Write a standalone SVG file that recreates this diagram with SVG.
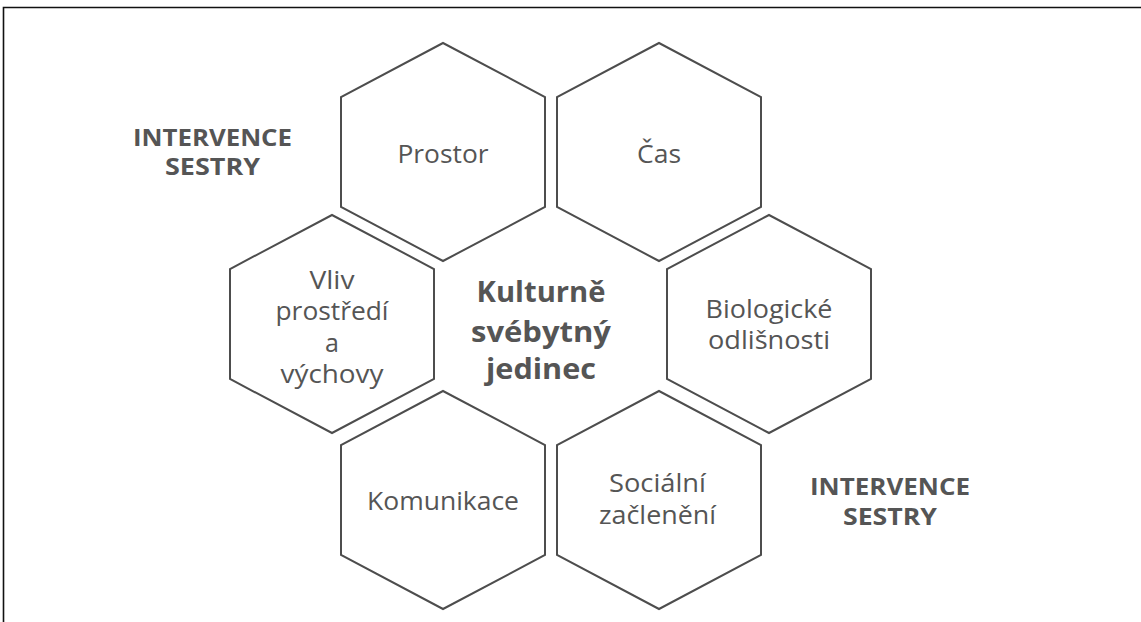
<svg xmlns="http://www.w3.org/2000/svg" width="1141" height="622" viewBox="0 0 1141 622">
  <style>
    .hex { fill: none; stroke: #4d4d4d; stroke-width: 2; stroke-linejoin: miter; }
    .t { font-family: "Open Sans", "Noto Sans", "DejaVu Sans", sans-serif; font-size: 25px; fill: #555555; text-anchor: middle; }
    .b { font-family: "Open Sans", "Noto Sans", "DejaVu Sans", sans-serif; font-size: 29px; font-weight: bold; fill: #555555; text-anchor: middle; }
    .lbl { font-family: "Open Sans", "Noto Sans", "DejaVu Sans", sans-serif; font-size: 24px; font-weight: bold; fill: #555555; text-anchor: middle; }
    .frame { fill: none; stroke: #111111; stroke-width: 1.6; }
  </style>
  <defs>
    <polygon id="hexshape" points="0,-109 102,-55 102,55 0,109 -102,55 -102,-55"/>
  </defs>
  <rect x="0" y="0" width="1141" height="622" fill="#ffffff"/>
  <path class="frame" d="M3.5,622 L3.5,7.5 L1141,7.5"/>

  <g id="node-prostor">
    <use href="#hexshape" class="hex" x="443" y="152"/>
    <text class="t" x="443" y="163" textLength="91" lengthAdjust="spacingAndGlyphs">Prostor</text>
  </g>
  <g id="node-cas">
    <use href="#hexshape" class="hex" x="659" y="152"/>
    <text class="t" x="659" y="163" textLength="44" lengthAdjust="spacingAndGlyphs">Čas</text>
  </g>
  <g id="node-vliv">
    <use href="#hexshape" class="hex" x="332" y="324"/>
    <text class="t" x="332" y="288.5" textLength="45" lengthAdjust="spacingAndGlyphs">Vliv</text>
    <text class="t" x="332" y="320" textLength="113" lengthAdjust="spacingAndGlyphs">prostředí</text>
    <text class="t" x="332" y="351.5">a</text>
    <text class="t" x="332" y="383" textLength="103" lengthAdjust="spacingAndGlyphs">výchovy</text>
  </g>
  <g id="node-biologicke">
    <use href="#hexshape" class="hex" x="769" y="324"/>
    <text class="t" x="769" y="317.5" textLength="127" lengthAdjust="spacingAndGlyphs">Biologické</text>
    <text class="t" x="769" y="348.5" textLength="122" lengthAdjust="spacingAndGlyphs">odlišnosti</text>
  </g>
  <g id="node-komunikace">
    <use href="#hexshape" class="hex" x="443" y="500"/>
    <text class="t" x="443" y="509.5" textLength="152" lengthAdjust="spacingAndGlyphs">Komunikace</text>
  </g>
  <g id="node-socialni">
    <use href="#hexshape" class="hex" x="659" y="500"/>
    <text class="t" x="657.5" y="492" textLength="97" lengthAdjust="spacingAndGlyphs">Sociální</text>
    <text class="t" x="657.5" y="524" textLength="117" lengthAdjust="spacingAndGlyphs">začlenění</text>
  </g>
  <g id="node-center">
    <text class="b" x="541" y="302" textLength="129" lengthAdjust="spacingAndGlyphs">Kulturně</text>
    <text class="b" x="541" y="342" textLength="140" lengthAdjust="spacingAndGlyphs">svébytný</text>
    <text class="b" x="541" y="379" textLength="110" lengthAdjust="spacingAndGlyphs">jedinec</text>
  </g>
  <g id="label-intervence-1">
    <text class="lbl" x="212.5" y="146" textLength="159" lengthAdjust="spacingAndGlyphs">INTERVENCE</text>
    <text class="lbl" x="212.5" y="175" textLength="95" lengthAdjust="spacingAndGlyphs">SESTRY</text>
  </g>
  <g id="label-intervence-2">
    <text class="lbl" x="890" y="495" textLength="160" lengthAdjust="spacingAndGlyphs">INTERVENCE</text>
    <text class="lbl" x="890" y="524.5" textLength="94" lengthAdjust="spacingAndGlyphs">SESTRY</text>
  </g>
  <g id="connectors"/>
</svg>
